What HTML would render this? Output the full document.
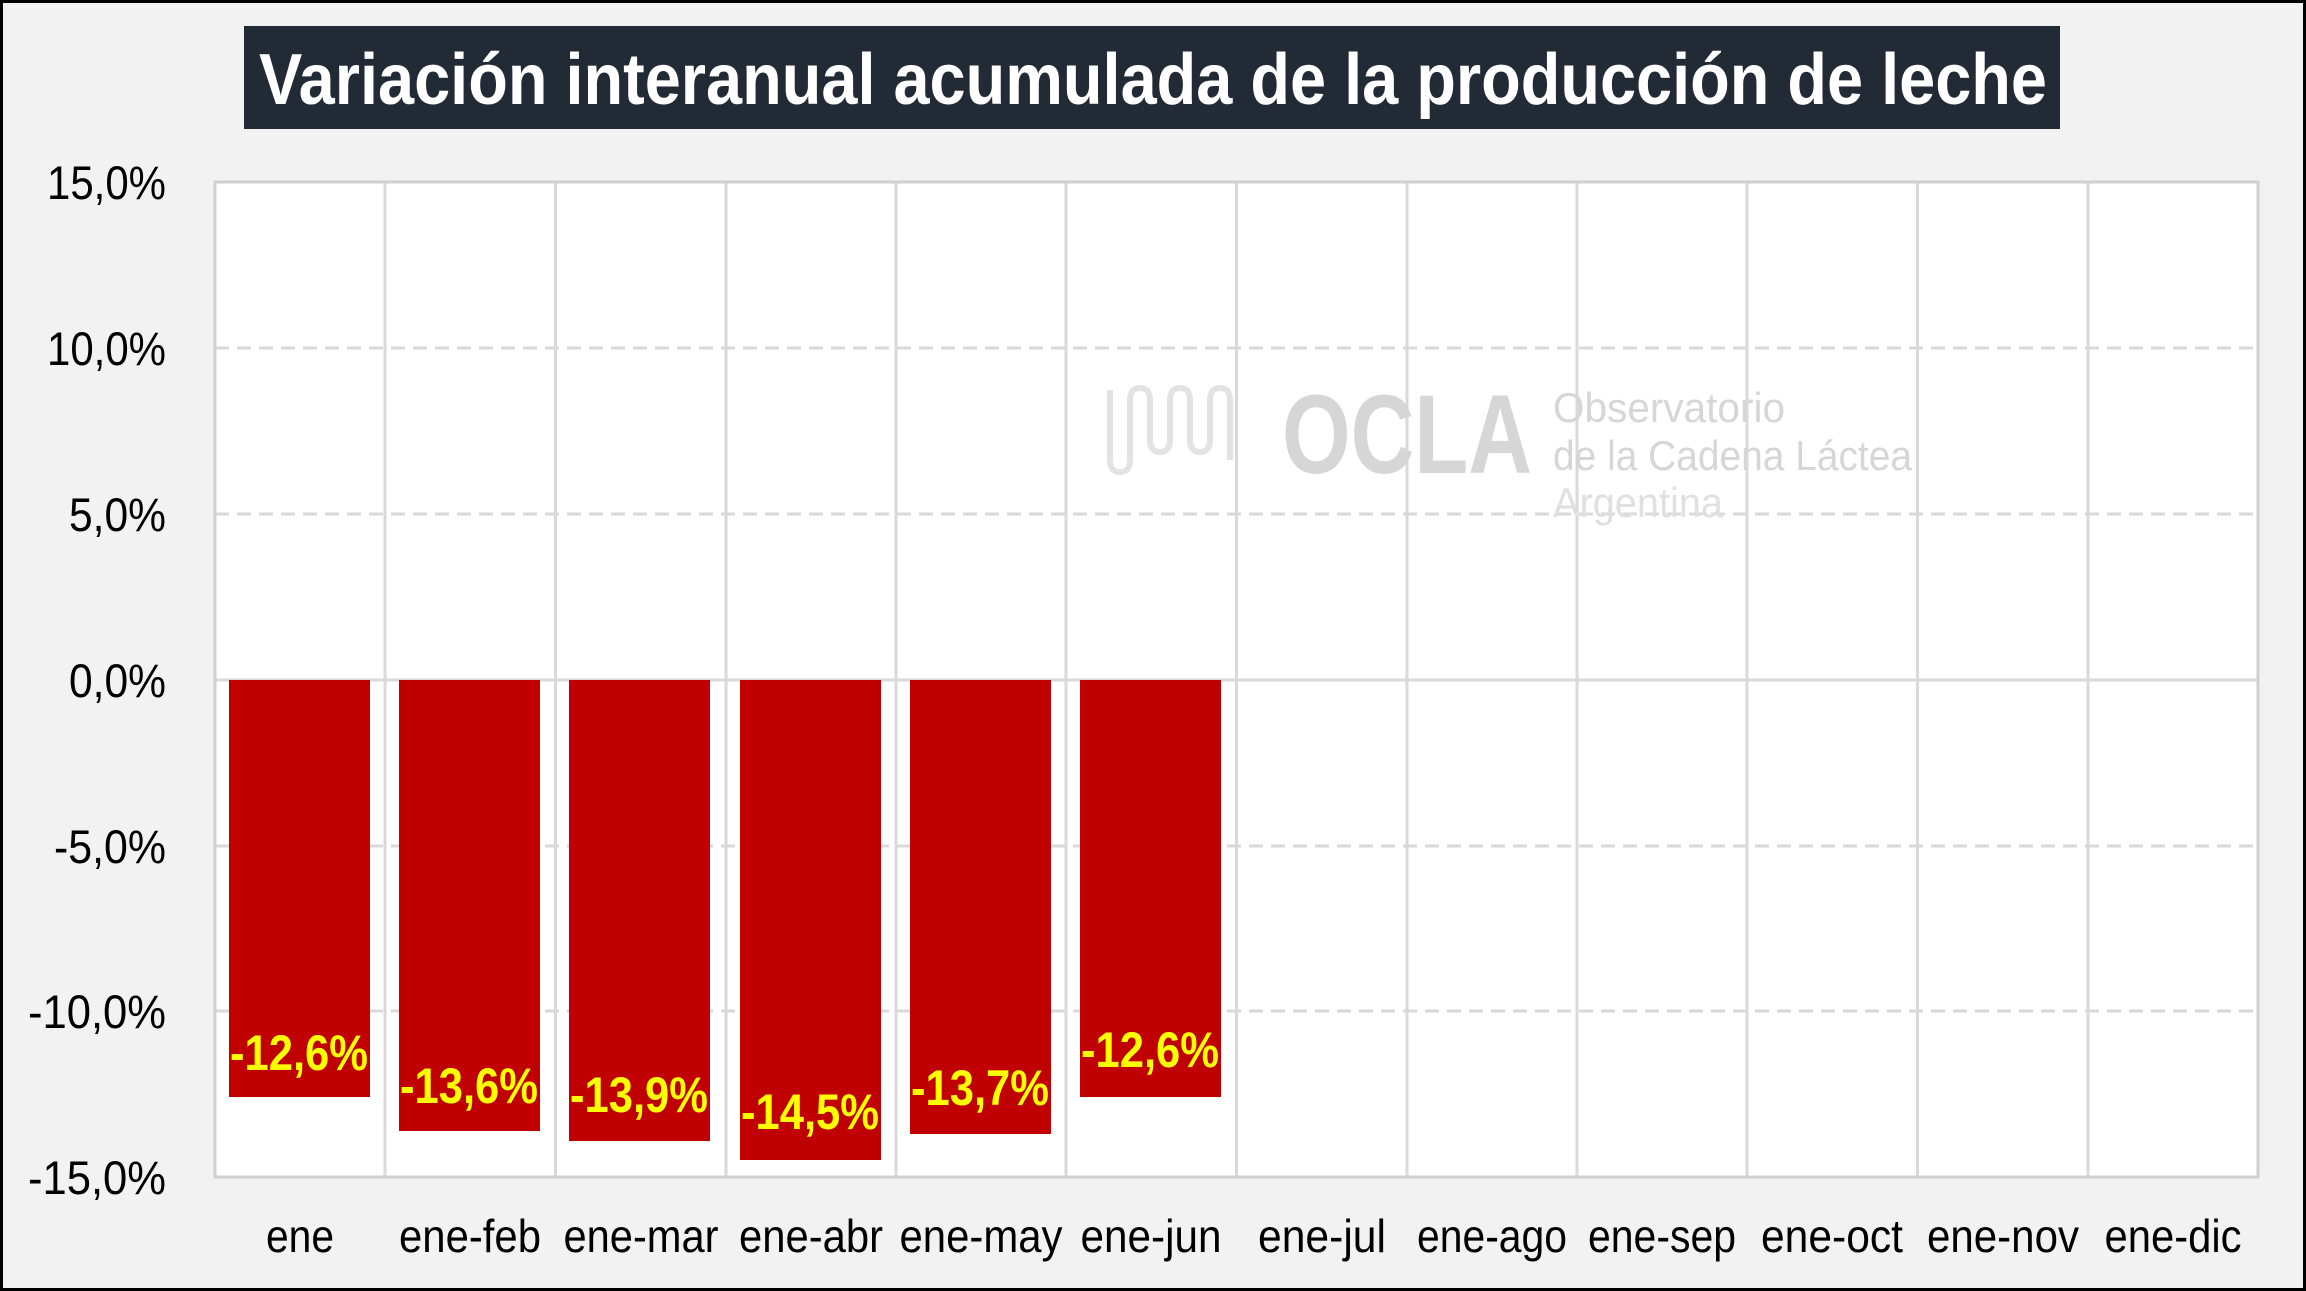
<!DOCTYPE html>
<html><head><meta charset="utf-8"><style>
html,body{margin:0;padding:0;background:#f2f2f2}
svg{display:block}
text{font-family:"Liberation Sans",sans-serif}
</style></head><body>
<svg width="2306" height="1291" viewBox="0 0 2306 1291" xmlns="http://www.w3.org/2000/svg">
<rect x="1.5" y="1.5" width="2303" height="1288" fill="#f2f2f2" stroke="#000" stroke-width="3"/>
<rect x="244" y="26" width="1816" height="103" fill="#222a35"/>
<text x="259" y="104" font-size="72" font-weight="bold" fill="#fff" textLength="1788" lengthAdjust="spacingAndGlyphs">Variación interanual acumulada de la producción de leche</text>
<rect x="215" y="182" width="2043" height="995" fill="#fff"/>
<g stroke="#d9d9d9" stroke-width="3">
<line x1="385" y1="182" x2="385" y2="1177"/><line x1="555.5" y1="182" x2="555.5" y2="1177"/><line x1="726" y1="182" x2="726" y2="1177"/><line x1="896" y1="182" x2="896" y2="1177"/><line x1="1066" y1="182" x2="1066" y2="1177"/><line x1="1236.5" y1="182" x2="1236.5" y2="1177"/><line x1="1407" y1="182" x2="1407" y2="1177"/><line x1="1577" y1="182" x2="1577" y2="1177"/><line x1="1747" y1="182" x2="1747" y2="1177"/><line x1="1917.5" y1="182" x2="1917.5" y2="1177"/><line x1="2088" y1="182" x2="2088" y2="1177"/>
</g>
<g stroke="#d9d9d9" stroke-width="3" stroke-dasharray="14,8">
<line x1="215" y1="348" x2="2258" y2="348"/><line x1="215" y1="514" x2="2258" y2="514"/><line x1="215" y1="846" x2="2258" y2="846"/><line x1="215" y1="1011" x2="2258" y2="1011"/>
</g>
<line x1="215" y1="680" x2="2258" y2="680" stroke="#d9d9d9" stroke-width="3"/>
<rect x="215" y="182" width="2043" height="995" fill="none" stroke="#d0d0d0" stroke-width="3"/>
<g fill="none" stroke="#e3e3e3" stroke-width="6">
<path d="M1110 390 v70 q0 12 10 12 q10 0 10 -12 v-60 q0 -12 10 -12 q10 0 10 12 v40 q0 12 10 12 q10 0 10 -12 v-40 q0 -12 10 -12 q10 0 10 12 v40 q0 12 10 12 q10 0 10 -12 v-40 q0 -12 10 -12 q10 0 10 12 v60"/>
</g>
<text x="1282" y="473" font-size="112" font-weight="bold" fill="#d6d6d6" textLength="250" lengthAdjust="spacingAndGlyphs">OCLA</text>
<text x="1553" y="422" font-size="42" fill="#d6d6d6" textLength="232" lengthAdjust="spacingAndGlyphs">Observatorio</text>
<text x="1553" y="470" font-size="42" fill="#d6d6d6" textLength="359" lengthAdjust="spacingAndGlyphs">de la Cadena Láctea</text>
<text x="1553" y="517" font-size="42" fill="#e0e0e0" textLength="170" lengthAdjust="spacingAndGlyphs">Argentina</text>
<g fill="#c00000">
<rect x="229" y="680" width="141" height="417"/>
<rect x="399" y="680" width="141" height="451"/>
<rect x="569" y="680" width="141" height="461"/>
<rect x="740" y="680" width="141" height="480"/>
<rect x="910" y="680" width="141" height="454"/>
<rect x="1080" y="680" width="141" height="417"/>
</g>
<g fill="#ffff00" font-size="50" font-weight="bold" text-anchor="middle">
<text x="299" y="1070" textLength="138" lengthAdjust="spacingAndGlyphs">-12,6%</text>
<text x="469" y="1103" textLength="138" lengthAdjust="spacingAndGlyphs">-13,6%</text>
<text x="639" y="1112" textLength="138" lengthAdjust="spacingAndGlyphs">-13,9%</text>
<text x="810" y="1129" textLength="138" lengthAdjust="spacingAndGlyphs">-14,5%</text>
<text x="980" y="1105" textLength="138" lengthAdjust="spacingAndGlyphs">-13,7%</text>
<text x="1150" y="1067" textLength="138" lengthAdjust="spacingAndGlyphs">-12,6%</text>
</g>
<g fill="#000" font-size="47" text-anchor="end">
<text x="166" y="199" textLength="119" lengthAdjust="spacingAndGlyphs">15,0%</text>
<text x="166" y="365" textLength="119" lengthAdjust="spacingAndGlyphs">10,0%</text>
<text x="166" y="531" textLength="97" lengthAdjust="spacingAndGlyphs">5,0%</text>
<text x="166" y="697" textLength="97" lengthAdjust="spacingAndGlyphs">0,0%</text>
<text x="166" y="863" textLength="112" lengthAdjust="spacingAndGlyphs">-5,0%</text>
<text x="166" y="1028" textLength="138" lengthAdjust="spacingAndGlyphs">-10,0%</text>
<text x="166" y="1194" textLength="138" lengthAdjust="spacingAndGlyphs">-15,0%</text>
</g>
<g fill="#000" font-size="46" text-anchor="middle">
<text x="300" y="1252" textLength="68" lengthAdjust="spacingAndGlyphs">ene</text>
<text x="470" y="1252" textLength="142" lengthAdjust="spacingAndGlyphs">ene-feb</text>
<text x="641" y="1252" textLength="155" lengthAdjust="spacingAndGlyphs">ene-mar</text>
<text x="811" y="1252" textLength="144" lengthAdjust="spacingAndGlyphs">ene-abr</text>
<text x="981" y="1252" textLength="163" lengthAdjust="spacingAndGlyphs">ene-may</text>
<text x="1151" y="1252" textLength="141" lengthAdjust="spacingAndGlyphs">ene-jun</text>
<text x="1322" y="1252" textLength="128" lengthAdjust="spacingAndGlyphs">ene-jul</text>
<text x="1492" y="1252" textLength="150" lengthAdjust="spacingAndGlyphs">ene-ago</text>
<text x="1662" y="1252" textLength="148" lengthAdjust="spacingAndGlyphs">ene-sep</text>
<text x="1832" y="1252" textLength="142" lengthAdjust="spacingAndGlyphs">ene-oct</text>
<text x="2003" y="1252" textLength="152" lengthAdjust="spacingAndGlyphs">ene-nov</text>
<text x="2173" y="1252" textLength="137" lengthAdjust="spacingAndGlyphs">ene-dic</text>
</g>
</svg>
</body></html>
